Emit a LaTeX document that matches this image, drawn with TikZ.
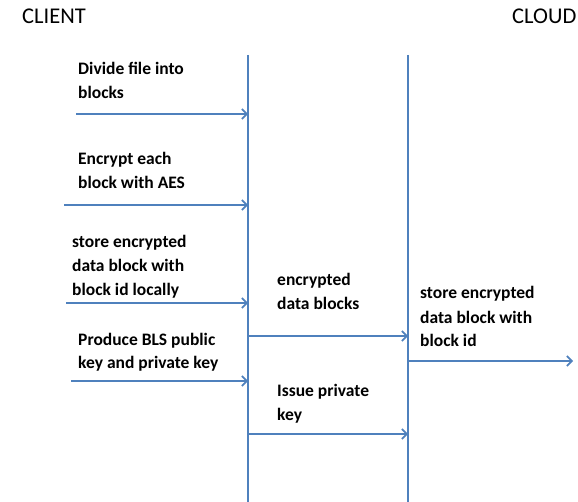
\documentclass[tikz,border=0pt]{standalone}
\usepackage{fontspec}
\setmainfont{Carlito}
\usetikzlibrary{arrows.meta}
\definecolor{lineblue}{RGB}{79,129,189}
\begin{document}
\begin{tikzpicture}[x=1pt,y=-1pt,
	lifeline/.style={lineblue, line width=1.8pt},
	msg/.style={lineblue, line width=1.6pt, -{Straight Barb[length=5pt,width=10pt,line width=1.6pt]}},
	lbl/.style={anchor=base west, inner sep=0pt, align=left, font=\bfseries\fontsize{17.5}{24}\selectfont},
	head/.style={anchor=base west, inner sep=0pt, font=\fontsize{22.5}{26}\selectfont}]
	\useasboundingbox (0,0) rectangle (578,502);
	%Kopfzeile
	\node[head] (client) at (22,24) {CLIENT};
	\node[head] (cloud) at (512,24) {CLOUD};
	%Lebenslinien
	\coordinate (clienttop) at (248,55);
	\coordinate (clientbot) at (248,502);
	\coordinate (cloudtop) at (408,55);
	\coordinate (cloudbot) at (408,502);
	\draw[lifeline] (clienttop) -- (clientbot);
	\draw[lifeline] (cloudtop) -- (cloudbot);
	%Client (Lage = Grundlinie der letzten Zeile)
	\node[lbl] (divide) at (78,99) {Divide file into\\blocks};
	\node[lbl] (encrypt) at (78,189) {Encrypt each\\block with AES};
	\node[lbl] (storelocal) at (72,296) {store encrypted\\data block with\\block id locally};
	\node[lbl] (produce) at (78,369) {Produce BLS public\\key and private key};
	\coordinate (divstart) at (76,114);
	\coordinate (encstart) at (64,205);
	\coordinate (locstart) at (66,303);
	\coordinate (prodstart) at (71,381);
	\foreach \s in {divstart, encstart, locstart, prodstart} {
		\draw[msg] (\s) -- (\s -| clienttop);
	}
	%Client -> Cloud
	\node[lbl] (blocks) at (277,310) {encrypted\\data blocks};
	\node[lbl] (issue) at (277,420) {Issue private\\key};
	\coordinate (blkstart) at (248,336);
	\coordinate (keystart) at (248,434);
	\foreach \s in {blkstart, keystart} {
		\draw[msg] (\s) -- (\s -| cloudtop);
	}
	%Cloud
	\node[lbl] (storecloud) at (420,347) {store encrypted\\data block with\\block id};
	\coordinate (cloudstart) at (408,361);
	\coordinate (cloudend) at (573,361);
	\draw[msg] (cloudstart) -- (cloudend);
\end{tikzpicture}
\end{document}
